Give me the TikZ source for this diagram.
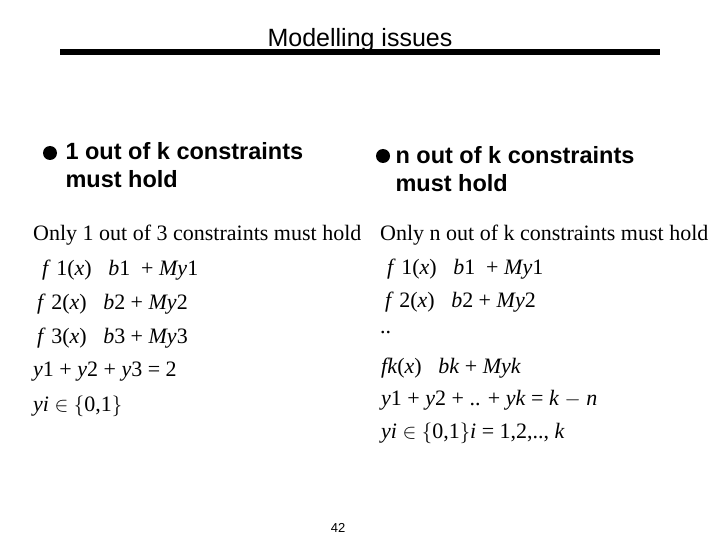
\documentclass[tikz,border=0pt]{standalone}
\usepackage{fontspec}
\setmainfont{Liberation Serif}
\newfontfamily\arial{Liberation Sans}
\newcommand{\iv}[1]{\textit{#1}}
\begin{document}
\begin{tikzpicture}[x=1pt,y=-1pt,
  ttl/.style={font=\arial\fontsize{25}{28}\selectfont},
  bul/.style={font=\arial\bfseries\fontsize{23.5}{28}\selectfont,anchor=west,align=left},
  mth/.style={font=\fontsize{22}{24}\selectfont,anchor=west,inner sep=0pt}]
\useasboundingbox (0,0) rectangle (720,540);
\node[ttl] (title) at (360,40) {Modelling issues};
\coordinate (la) at (60,52); \coordinate (lb) at (660,52);
\draw[line width=6pt] (la) -- (lb);
\fill (50,153) circle (7);
\node[bul,anchor=north west] (b1) at (62,139) {1 out of k constraints\\must hold};
\fill (383,156) circle (7);
\node[bul,anchor=north west] (b2) at (392,143) {n out of k constraints\\must hold};
\node[mth] (l1) at (33,235) {Only 1 out of 3 constraints must hold};
\node[mth] (l2) at (42,270) {\iv{f} 1(\iv{x})\ \ \ \iv{b}1\ \ + \iv{My}1};
\node[mth] (l3) at (37,304) {\iv{f} 2(\iv{x})\ \ \ \iv{b}2 + \iv{My}2};
\node[mth] (l4) at (37,338) {\iv{f} 3(\iv{x})\ \ \ \iv{b}3 + \iv{My}3};
\node[mth] (l5) at (33,372) {\iv{y}1 + \iv{y}2 + \iv{y}3 = 2};
\node[mth] (l6) at (33,406) {\iv{yi} $\in$ $\bigl\{$0,1$\bigr\}$};
\node[mth] (r1) at (380,235) {Only n out of k constraints must hold};
\node[mth] (r2) at (387,269) {\iv{f} 1(\iv{x})\ \ \ \iv{b}1\ \ + \iv{My}1};
\node[mth] (r3) at (385,302) {\iv{f} 2(\iv{x})\ \ \ \iv{b}2 + \iv{My}2};
\node[mth] (r4) at (380,333) {..};
\node[mth] (r5) at (381,368) {\iv{fk}(\iv{x})\ \ \ \iv{bk} + \iv{Myk}};
\node[mth] (r6) at (381,400) {\iv{y}1 + \iv{y}2 + .. + \iv{yk} = \iv{k} $-$ \iv{n}};
\node[mth] (r7) at (381,433) {\iv{yi} $\in$ $\bigl\{$0,1$\bigr\}$\iv{i} = 1,2,.., \iv{k}};
\node[font=\arial\fontsize{13}{15}\selectfont] (pg) at (338,528) {42};
\end{tikzpicture}
\end{document}
